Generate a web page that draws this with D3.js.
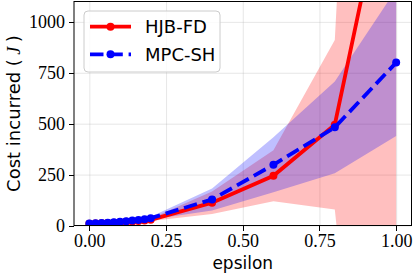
<!DOCTYPE html>
<html lang="en">
<head>
    <meta charset="UTF-8">
    <title>Cost incurred vs epsilon</title>
    <script type="text/javascript" src="https://cdn.jsdelivr.net/npm/d3@7"></script>
</head>
<style>
    body{ margin:0; background:#fff; }
    .axis path,.axis line{
        fill:none;
        stroke:black;
        shape-rendering: crispEdges;
    }
    .axis text{
        font-family: "Liberation Serif", serif;
        font-size: 18px;
    }
    .label{
        font-family: "DejaVu Sans", sans-serif;
        font-size: 17px;
    }
    .grid line{ stroke:#b0b0b0; stroke-opacity:0.3; }
    .grid path{ display:none; }
</style>
<body>

<script>
// data
var epsilon = [0, 0.02, 0.04, 0.06, 0.08, 0.1, 0.12, 0.14, 0.16, 0.18, 0.2, 0.4, 0.6, 0.8, 1.0];
var hjbMean = [9, 10, 11, 12, 14, 16, 18, 20, 22, 25, 28, 112, 244, 495, 1920];
var hjbStd  = [2, 2, 2, 3, 3, 3, 4, 4, 5, 5, 6, 55, 125, 416, 4700];
var mpcMean = [10, 11, 12, 14, 16, 18, 21, 24, 27, 31, 36, 128, 298, 482, 800];
var mpcStd  = [2, 2, 2, 3, 3, 4, 4, 5, 5, 6, 7, 54, 135, 225, 360];
var xTicks = [0, 0.25, 0.5, 0.75, 1.0];
var yTicks = [0, 250, 500, 750, 1000];

var width = 415, height = 278;
var pLeft = 74, pRight = 411.5, pTop = 1.5, pBottom = 225.5;

var svg = d3.select("body").append("svg")
        .attr("width", width)
        .attr("height", height);

var x = d3.scaleLinear().domain([-0.05, 1.05]).range([pLeft, pRight]);
var y = d3.scaleLinear().domain([0, 1100]).range([pBottom, pTop]);

svg.append("defs").append("clipPath").attr("id", "plot")
    .append("rect")
    .attr("x", pLeft).attr("y", pTop)
    .attr("width", pRight - pLeft).attr("height", pBottom - pTop);

// grid
svg.append("g").attr("class", "grid")
    .attr("transform", "translate(0," + pBottom + ")")
    .call(d3.axisBottom(x).tickValues(xTicks).tickSize(-(pBottom - pTop)).tickFormat(""));
svg.append("g").attr("class", "grid")
    .attr("transform", "translate(" + pLeft + ",0)")
    .call(d3.axisLeft(y).tickValues(yTicks).tickSize(-(pRight - pLeft)).tickFormat(""));

var series = [
    {name: "HJB-FD", mean: hjbMean, std: hjbStd, color: "#ff0000", dash: null},
    {name: "MPC-SH", mean: mpcMean, std: mpcStd, color: "#0000ff", dash: "13.5,5.8"}
];

var plot = svg.append("g").attr("clip-path", "url(#plot)");

// bands (mean +/- std)
series.forEach(function(s){
    var area = d3.area()
        .x(function(d, i){ return x(epsilon[i]); })
        .y0(function(d, i){ return y(s.mean[i] - s.std[i]); })
        .y1(function(d, i){ return y(s.mean[i] + s.std[i]); });
    plot.append("path")
        .datum(s.mean)
        .attr("d", area)
        .attr("fill", s.color)
        .attr("fill-opacity", 0.25);
});

// lines + markers
series.forEach(function(s){
    var line = d3.line()
        .x(function(d, i){ return x(epsilon[i]); })
        .y(function(d){ return y(d); });
    plot.append("path")
        .datum(s.mean)
        .attr("d", line)
        .attr("fill", "none")
        .attr("stroke", s.color)
        .attr("stroke-width", 3.8)
        .attr("stroke-dasharray", s.dash);
    plot.selectAll(null)
        .data(s.mean)
        .enter()
        .append("circle")
        .attr("cx", function(d, i){ return x(epsilon[i]); })
        .attr("cy", function(d){ return y(d); })
        .attr("r", 4)
        .attr("fill", s.color);
});

// frame
svg.append("rect")
    .attr("x", pLeft).attr("y", pTop)
    .attr("width", pRight - pLeft).attr("height", pBottom - pTop)
    .attr("fill", "none").attr("stroke", "black").attr("stroke-width", 1);

// axes
svg.append("g").attr("class", "axis")
    .attr("transform", "translate(0," + pBottom + ")")
    .call(d3.axisBottom(x).tickValues(xTicks).tickSize(5).tickPadding(4).tickFormat(d3.format(".2f")))
    .call(function(g){ g.select(".domain").remove(); });
svg.append("g").attr("class", "axis")
    .attr("transform", "translate(" + pLeft + ",0)")
    .call(d3.axisLeft(y).tickValues(yTicks).tickSize(5).tickPadding(4).tickFormat(d3.format("d")))
    .call(function(g){ g.select(".domain").remove(); });

// axis labels
svg.append("text").attr("class", "label")
    .attr("x", (pLeft + pRight) / 2).attr("y", 269)
    .attr("text-anchor", "middle")
    .text("epsilon");

var ylab = svg.append("text").attr("class", "label")
    .attr("transform", "translate(20," + ((pTop + pBottom) / 2) + ") rotate(-90)")
    .attr("text-anchor", "middle")
    .style("font-size", "18px");
ylab.append("tspan").text("Cost incurred (");
ylab.append("tspan").attr("font-family", "Liberation Serif, serif").attr("font-style", "italic").text(" J ");
ylab.append("tspan").text(")");

// legend
var legend = svg.append("g").attr("transform", "translate(84,11)");
legend.append("rect")
    .attr("width", 136).attr("height", 61).attr("rx", 4)
    .attr("fill", "white").attr("fill-opacity", 0.8)
    .attr("stroke", "#cccccc").attr("stroke-width", 1);
series.forEach(function(s, i){
    var ly = 15.7 + i * 27.6;
    legend.append("line")
        .attr("x1", 6).attr("x2", 47).attr("y1", ly).attr("y2", ly)
        .attr("stroke", s.color).attr("stroke-width", 3.8)
        .attr("stroke-dasharray", s.dash);
    legend.append("circle")
        .attr("cx", 26.5).attr("cy", ly).attr("r", 4)
        .attr("fill", s.color);
    legend.append("text").attr("class", "label")
        .attr("x", 61).attr("y", ly + 6.5)
        .style("font-size", "18px")
        .text(s.name);
});
</script>
</body>
</html>
